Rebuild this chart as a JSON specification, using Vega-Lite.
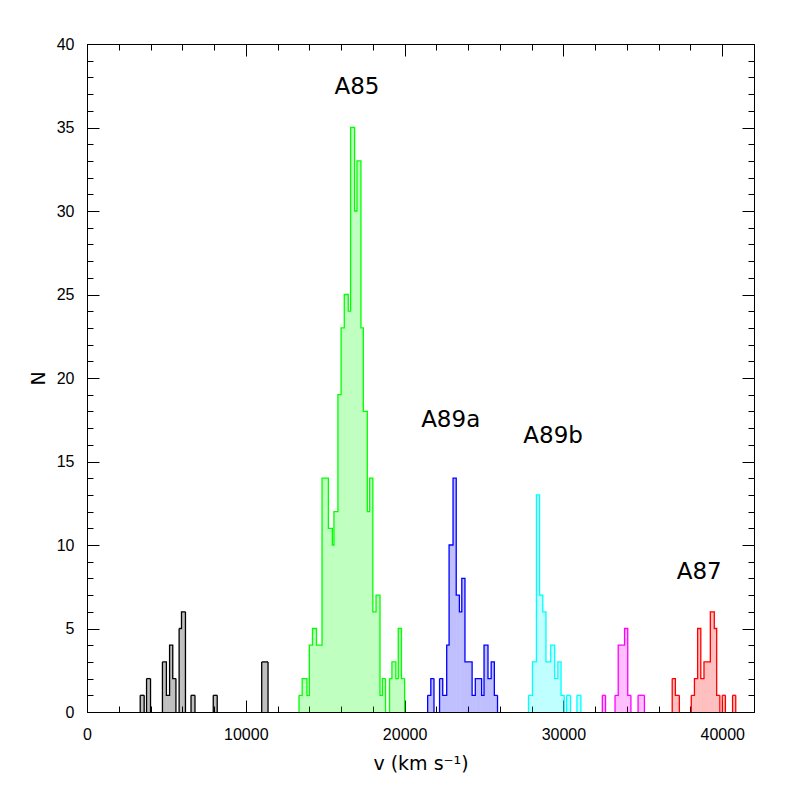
{
  "$schema": "https://vega.github.io/schema/vega-lite/v6.json",
  "width": 667,
  "height": 668,
  "autosize": {"type": "none"},
  "padding": {"left": 87, "top": 44, "right": 43, "bottom": 85},
  "background": "white",
  "config": {
    "view": {"stroke": "#000", "strokeWidth": 1},
    "axis": {"domainColor": "#000", "tickColor": "#000", "labelColor": "#000", "labelFont": "Liberation Sans", "labelFontSize": 16, "grid": false, "titleFont": "DejaVu Sans", "titleFontWeight": "normal", "titleFontSize": 19, "titleColor": "#000", "labelOverlap": false, "labelFlush": false}
  },
  "datasets": {
    "bins": [
      {"g": "k", "c": "k1", "v0": 3350, "v1": 3600, "n": 1},
      {"g": "k", "c": "k2", "v0": 3750, "v1": 4000, "n": 2},
      {"g": "k", "c": "k3", "v0": 4750, "v1": 5000, "n": 3},
      {"g": "k", "c": "k3", "v0": 5000, "v1": 5200, "n": 1},
      {"g": "k", "c": "k3", "v0": 5200, "v1": 5400, "n": 4},
      {"g": "k", "c": "k3", "v0": 5400, "v1": 5600, "n": 2},
      {"g": "k", "c": "k4", "v0": 5800, "v1": 5950, "n": 5},
      {"g": "k", "c": "k4", "v0": 5950, "v1": 6200, "n": 6},
      {"g": "k", "c": "k5", "v0": 6550, "v1": 6800, "n": 1},
      {"g": "k", "c": "k6", "v0": 7950, "v1": 8200, "n": 1},
      {"g": "k", "c": "k7", "v0": 11000, "v1": 11400, "n": 3},
      {"g": "g", "c": "g1", "v0": 13350, "v1": 13550, "n": 1},
      {"g": "g", "c": "g1", "v0": 13550, "v1": 13850, "n": 2},
      {"g": "g", "c": "g1", "v0": 13850, "v1": 14000, "n": 1},
      {"g": "g", "c": "g1", "v0": 14000, "v1": 14200, "n": 4},
      {"g": "g", "c": "g1", "v0": 14200, "v1": 14450, "n": 5},
      {"g": "g", "c": "g1", "v0": 14450, "v1": 14800, "n": 4},
      {"g": "g", "c": "g1", "v0": 14800, "v1": 15200, "n": 14},
      {"g": "g", "c": "g1", "v0": 15200, "v1": 15450, "n": 11},
      {"g": "g", "c": "g1", "v0": 15450, "v1": 15550, "n": 10},
      {"g": "g", "c": "g1", "v0": 15550, "v1": 15800, "n": 12},
      {"g": "g", "c": "g1", "v0": 15800, "v1": 16000, "n": 19},
      {"g": "g", "c": "g1", "v0": 16000, "v1": 16200, "n": 23},
      {"g": "g", "c": "g1", "v0": 16200, "v1": 16450, "n": 25},
      {"g": "g", "c": "g1", "v0": 16450, "v1": 16600, "n": 24},
      {"g": "g", "c": "g1", "v0": 16600, "v1": 16850, "n": 35},
      {"g": "g", "c": "g1", "v0": 16850, "v1": 17000, "n": 30},
      {"g": "g", "c": "g1", "v0": 17000, "v1": 17250, "n": 33},
      {"g": "g", "c": "g1", "v0": 17250, "v1": 17400, "n": 23},
      {"g": "g", "c": "g1", "v0": 17400, "v1": 17650, "n": 18},
      {"g": "g", "c": "g1", "v0": 17650, "v1": 17800, "n": 12},
      {"g": "g", "c": "g1", "v0": 17800, "v1": 18000, "n": 14},
      {"g": "g", "c": "g1", "v0": 18000, "v1": 18200, "n": 6},
      {"g": "g", "c": "g1", "v0": 18200, "v1": 18450, "n": 7},
      {"g": "g", "c": "g1", "v0": 18450, "v1": 18600, "n": 1},
      {"g": "g", "c": "g1", "v0": 18600, "v1": 18800, "n": 2},
      {"g": "g", "c": "g2", "v0": 19050, "v1": 19200, "n": 2},
      {"g": "g", "c": "g2", "v0": 19200, "v1": 19450, "n": 3},
      {"g": "g", "c": "g2", "v0": 19450, "v1": 19600, "n": 2},
      {"g": "g", "c": "g2", "v0": 19600, "v1": 19800, "n": 5},
      {"g": "g", "c": "g2", "v0": 19800, "v1": 20000, "n": 2},
      {"g": "b", "c": "b1", "v0": 21450, "v1": 21650, "n": 1},
      {"g": "b", "c": "b1", "v0": 21650, "v1": 21850, "n": 2},
      {"g": "b", "c": "b2", "v0": 22200, "v1": 22400, "n": 2},
      {"g": "b", "c": "b2", "v0": 22400, "v1": 22650, "n": 1},
      {"g": "b", "c": "b2", "v0": 22650, "v1": 22800, "n": 4},
      {"g": "b", "c": "b2", "v0": 22800, "v1": 23050, "n": 10},
      {"g": "b", "c": "b2", "v0": 23050, "v1": 23250, "n": 14},
      {"g": "b", "c": "b2", "v0": 23250, "v1": 23450, "n": 7},
      {"g": "b", "c": "b2", "v0": 23450, "v1": 23600, "n": 6},
      {"g": "b", "c": "b2", "v0": 23600, "v1": 23800, "n": 8},
      {"g": "b", "c": "b2", "v0": 23800, "v1": 24250, "n": 3},
      {"g": "b", "c": "b2", "v0": 24250, "v1": 24450, "n": 1},
      {"g": "b", "c": "b2", "v0": 24450, "v1": 24850, "n": 2},
      {"g": "b", "c": "b2", "v0": 24850, "v1": 25000, "n": 1},
      {"g": "b", "c": "b2", "v0": 25000, "v1": 25250, "n": 4},
      {"g": "b", "c": "b2", "v0": 25250, "v1": 25450, "n": 2},
      {"g": "b", "c": "b2", "v0": 25450, "v1": 25650, "n": 3},
      {"g": "b", "c": "b2", "v0": 25650, "v1": 25850, "n": 1},
      {"g": "c", "c": "c1", "v0": 27800, "v1": 28050, "n": 1},
      {"g": "c", "c": "c1", "v0": 28050, "v1": 28300, "n": 3},
      {"g": "c", "c": "c1", "v0": 28300, "v1": 28500, "n": 13},
      {"g": "c", "c": "c1", "v0": 28500, "v1": 28700, "n": 7},
      {"g": "c", "c": "c1", "v0": 28700, "v1": 28900, "n": 6},
      {"g": "c", "c": "c1", "v0": 28900, "v1": 29200, "n": 3},
      {"g": "c", "c": "c1", "v0": 29200, "v1": 29450, "n": 4},
      {"g": "c", "c": "c1", "v0": 29450, "v1": 29650, "n": 2},
      {"g": "c", "c": "c1", "v0": 29650, "v1": 29850, "n": 3},
      {"g": "c", "c": "c1", "v0": 29850, "v1": 30050, "n": 1},
      {"g": "c", "c": "c2", "v0": 30200, "v1": 30450, "n": 1},
      {"g": "c", "c": "c3", "v0": 30850, "v1": 31100, "n": 1},
      {"g": "m", "c": "m1", "v0": 32450, "v1": 32650, "n": 1},
      {"g": "m", "c": "m2", "v0": 33250, "v1": 33450, "n": 1},
      {"g": "m", "c": "m2", "v0": 33450, "v1": 33850, "n": 4},
      {"g": "m", "c": "m2", "v0": 33850, "v1": 34050, "n": 5},
      {"g": "m", "c": "m2", "v0": 34050, "v1": 34250, "n": 1},
      {"g": "m", "c": "m3", "v0": 34700, "v1": 35100, "n": 1},
      {"g": "r", "c": "r1", "v0": 36850, "v1": 37050, "n": 2},
      {"g": "r", "c": "r1", "v0": 37050, "v1": 37300, "n": 1},
      {"g": "r", "c": "r2", "v0": 38050, "v1": 38250, "n": 1},
      {"g": "r", "c": "r2", "v0": 38250, "v1": 38450, "n": 2},
      {"g": "r", "c": "r2", "v0": 38450, "v1": 38650, "n": 5},
      {"g": "r", "c": "r2", "v0": 38650, "v1": 38850, "n": 2},
      {"g": "r", "c": "r2", "v0": 38850, "v1": 39250, "n": 3},
      {"g": "r", "c": "r2", "v0": 39250, "v1": 39500, "n": 6},
      {"g": "r", "c": "r2", "v0": 39500, "v1": 39650, "n": 5},
      {"g": "r", "c": "r2", "v0": 39650, "v1": 39850, "n": 1},
      {"g": "r", "c": "r3", "v0": 40000, "v1": 40200, "n": 1},
      {"g": "r", "c": "r4", "v0": 40650, "v1": 40850, "n": 1}
    ],
    "labels": [
      {"label": "A85", "v": 17000, "n": 37.4},
      {"label": "A89a", "v": 22900, "n": 17.5},
      {"label": "A89b", "v": 29350, "n": 16.5},
      {"label": "A87", "v": 38550, "n": 8.4}
    ]
  },
  "resolve": {"axis": {"x": "independent", "y": "independent"}},
  "layer": [
    {
      "data": {"name": "bins"},
      "mark": {"type": "rect", "fillOpacity": 0.25, "strokeWidth": 0},
      "encoding": {
        "x": {"field": "v0", "type": "quantitative", "scale": {"domain": [0, 42000], "nice": false, "zero": false},
          "axis": {"orient": "bottom", "values": [0, 10000, 20000, 30000, 40000], "format": "d",
            "ticks": false, "tickSize": 0, "domain": false,
            "labelPadding": 14, "title": "v  (km s⁻¹)", "titlePadding": 12}},
        "x2": {"field": "v1"},
        "y": {"field": "n", "type": "quantitative", "scale": {"domain": [0, 40], "nice": false},
          "axis": {"orient": "left", "values": [0, 5, 10, 15, 20, 25, 30, 35, 40], "format": "d",
            "ticks": false, "tickSize": 0, "domain": false,
            "labelPadding": 13, "title": "N", "titlePadding": 8}},
        "y2": {"datum": 0},
        "color": {"field": "g", "type": "nominal", "legend": null,
          "scale": {"domain": ["k", "g", "b", "c", "m", "r"], "range": ["#000000", "#00ff00", "#0000ff", "#00ffff", "#ff00ff", "#ff0000"]}}
      }
    },
    {
      "data": {"name": "bins"},
      "transform": [{"fold": ["v0", "v1"], "as": ["edge", "xv"]}],
      "mark": {"type": "line", "strokeWidth": 1.3, "interpolate": "linear"},
      "encoding": {
        "x": {"field": "xv", "type": "quantitative",
          "axis": {"orient": "top", "values": [0,2000,4000,6000,8000,10000,12000,14000,16000,18000,20000,22000,24000,26000,28000,30000,32000,34000,36000,38000,40000],
            "labels": false, "title": null,
            "tickSize": {"condition": {"test": "datum.value % 10000 === 0", "value": -12}, "value": -6}}},
        "y": {"field": "n", "type": "quantitative",
          "axis": {"orient": "right", "values": [0,1,2,3,4,5,6,7,8,9,10,11,12,13,14,15,16,17,18,19,20,21,22,23,24,25,26,27,28,29,30,31,32,33,34,35,36,37,38,39,40],
            "labels": false, "title": null,
            "tickSize": {"condition": {"test": "datum.value % 5 === 0", "value": -12}, "value": -6}}},
        "detail": {"field": "c"},
        "order": [{"field": "xv", "type": "quantitative"}, {"field": "edge", "sort": "descending"}],
        "color": {"field": "g", "type": "nominal", "legend": null}
      }
    },
    {
      "data": {"name": "bins"},
      "transform": [
        {"joinaggregate": [{"op": "min", "field": "v0", "as": "lo"}], "groupby": ["c"]},
        {"filter": "datum.v0 === datum.lo"}
      ],
      "mark": {"type": "rule", "strokeWidth": 1.3},
      "encoding": {
        "x": {"field": "v0", "type": "quantitative",
          "axis": {"orient": "bottom", "values": [0,2000,4000,6000,8000,10000,12000,14000,16000,18000,20000,22000,24000,26000,28000,30000,32000,34000,36000,38000,40000],
            "labels": false, "title": null,
            "tickSize": {"condition": {"test": "datum.value % 10000 === 0", "value": -12}, "value": -6}}},
        "y": {"field": "n", "type": "quantitative",
          "axis": {"orient": "left", "values": [0,1,2,3,4,5,6,7,8,9,10,11,12,13,14,15,16,17,18,19,20,21,22,23,24,25,26,27,28,29,30,31,32,33,34,35,36,37,38,39,40],
            "labels": false, "title": null,
            "tickSize": {"condition": {"test": "datum.value % 5 === 0", "value": -12}, "value": -6}}},
        "y2": {"datum": 0},
        "color": {"field": "g", "type": "nominal", "legend": null}
      }
    },
    {
      "data": {"name": "bins"},
      "transform": [
        {"joinaggregate": [{"op": "max", "field": "v1", "as": "hi"}], "groupby": ["c"]},
        {"filter": "datum.v1 === datum.hi"}
      ],
      "mark": {"type": "rule", "strokeWidth": 1.3},
      "encoding": {
        "x": {"field": "v1", "type": "quantitative", "axis": null},
        "y": {"field": "n", "type": "quantitative", "axis": null},
        "y2": {"datum": 0},
        "color": {"field": "g", "type": "nominal", "legend": null}
      }
    },
    {
      "data": {"name": "labels"},
      "mark": {"type": "text", "font": "DejaVu Sans", "fontSize": 23, "color": "#000", "align": "center", "baseline": "middle"},
      "encoding": {
        "x": {"field": "v", "type": "quantitative", "axis": null},
        "y": {"field": "n", "type": "quantitative", "axis": null},
        "text": {"field": "label"}
      }
    }
  ]
}
